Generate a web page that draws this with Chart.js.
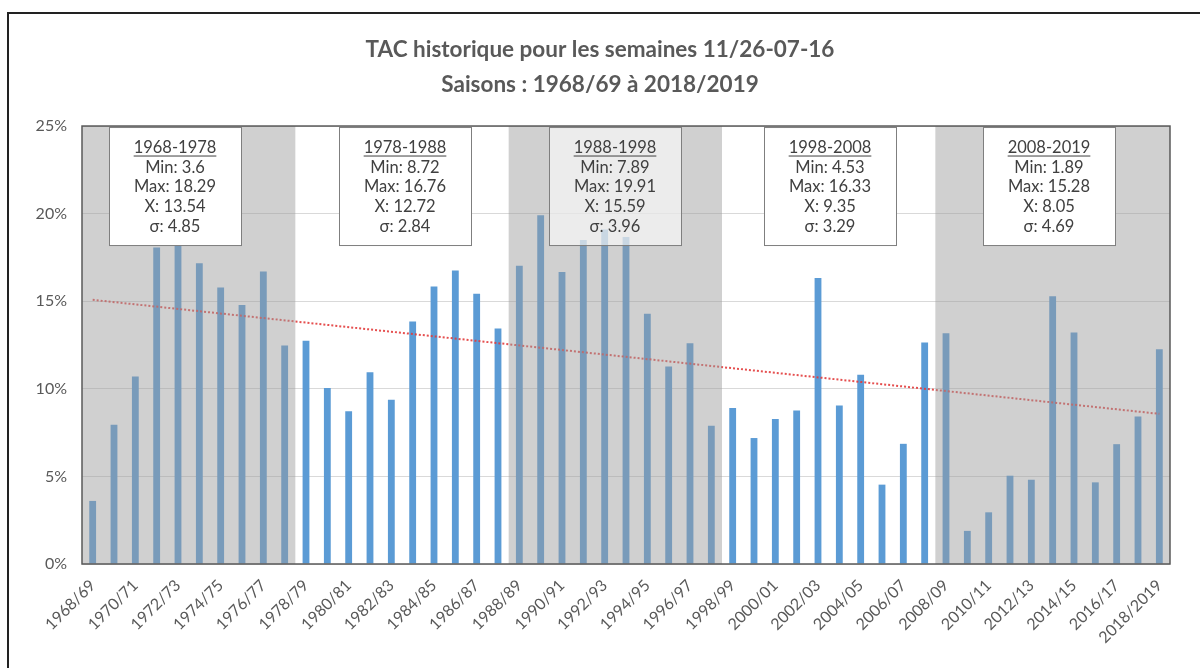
<!DOCTYPE html>
<html>
<head>
<meta charset="utf-8">
<script src="https://cdn.jsdelivr.net/npm/chart.js@4/dist/chart.umd.min.js"></script>
<style>
  html, body { margin: 0; padding: 0; background: #fff; }
</style>
</head>
<body>
<canvas id="tac-chart" width="1200" height="668"></canvas>
<script>
var seasons = [
  "1968/69", "1969/70", "1970/71", "1971/72", "1972/73", "1973/74", "1974/75", "1975/76", "1976/77", "1977/78",
  "1978/79", "1979/80", "1980/81", "1981/82", "1982/83", "1983/84", "1984/85", "1985/86", "1986/87", "1987/88",
  "1988/89", "1989/90", "1990/91", "1991/92", "1992/93", "1993/94", "1994/95", "1995/96", "1996/97", "1997/98",
  "1998/99", "1999/00", "2000/01", "2001/02", "2002/03", "2003/04", "2004/05", "2005/06", "2006/07", "2007/08",
  "2008/09", "2009/10", "2010/11", "2011/12", "2012/13", "2013/14", "2014/15", "2015/16", "2016/17", "2017/18",
  "2018/2019"
];
// TAC in %
var tacValues = [
  3.6, 7.95, 10.7, 18.06, 18.29, 17.17, 15.78, 14.79, 16.69, 12.47,
  12.74, 10.04, 8.72, 10.95, 9.37, 13.84, 15.84, 16.76, 15.42, 13.44,
  17.02, 19.91, 16.67, 18.5, 19.1, 18.66, 14.28, 11.27, 12.6, 7.89,
  8.9, 7.19, 8.27, 8.76, 16.33, 9.05, 10.8, 4.53, 6.86, 12.64,
  13.17, 1.89, 2.95, 5.04, 4.81, 15.28, 13.21, 4.66, 6.84, 8.42,
  12.26
];
// linear trend, first and last season
var trendEnds = [15.08, 8.57];

// decade summaries
var decadeNames = ["1968-1978", "1978-1988", "1988-1998", "1998-2008", "2008-2019"];
var decadeMin = [3.6, 8.72, 7.89, 4.53, 1.89];
var decadeMax = [18.29, 16.76, 19.91, 16.33, 15.28];
var decadeMean = [13.54, 12.72, 15.59, 9.35, 8.05];
var decadeSigma = [4.85, 2.84, 3.96, 3.29, 4.69];

// shaded decades (season index ranges)
var shadeFrom = [0, 20, 40];
var shadeTo = [9, 29, 50];

var titleLines = ["TAC historique pour les semaines 11/26-07-16", "Saisons : 1968/69 \u00e0 2018/2019"];

// box anchors on the category axis
var boxAnchor = [3.84, 14.66, 24.5, 34.57, 44.82];

var decor = {
  id: "decor",
  beforeDraw: function (chart) {
    var ctx = chart.ctx;
    ctx.save();
    ctx.fillStyle = "#fff";
    ctx.fillRect(0, 0, chart.width, chart.height);
    ctx.strokeStyle = "#222";
    ctx.lineWidth = 2;
    ctx.beginPath();
    ctx.moveTo(8, chart.height);
    ctx.lineTo(8, 13);
    ctx.lineTo(chart.width, 13);
    ctx.stroke();
    ctx.restore();
  },
  afterDatasetsDraw: function (chart) {
    var ctx = chart.ctx;
    var a = chart.chartArea;
    var xs = chart.scales.x;
    ctx.save();
    // grey bands
    ctx.fillStyle = "rgba(156,156,156,0.47)";
    for (var i = 0; i < shadeFrom.length; i++) {
      var x0 = Math.max(a.left, xs.getPixelForValue(shadeFrom[i] - 0.5));
      var x1 = Math.min(a.right, xs.getPixelForValue(shadeTo[i] + 0.5));
      ctx.fillRect(x0, a.top, x1 - x0, a.bottom - a.top);
    }
    // plot border
    ctx.strokeStyle = "#595959";
    ctx.lineWidth = 1.5;
    ctx.strokeRect(a.left, a.top, a.right - a.left, a.bottom - a.top);

    // stat boxes
    var w = 132, h = 118;
    ctx.font = "16.5px Lato";
    ctx.textAlign = "center";
    ctx.textBaseline = "middle";
    for (var j = 0; j < decadeNames.length; j++) {
      var cx = Math.round(xs.getPixelForValue(boxAnchor[j]));
      var left = cx - w / 2 + 0.5;
      var top = a.top + 1.5;
      ctx.fillStyle = j === 2 ? "rgba(255,255,255,0.6)" : "#fff";
      ctx.fillRect(left, top, w, h);
      ctx.strokeStyle = "#7f7f7f";
      ctx.lineWidth = 1;
      ctx.strokeRect(left, top, w, h);
      var lines = [
        decadeNames[j],
        "Min: " + decadeMin[j],
        "Max: " + decadeMax[j],
        "X: " + decadeMean[j],
        "\u03c3: " + decadeSigma[j]
      ];
      ctx.fillStyle = "#404040";
      for (var k = 0; k < lines.length; k++) {
        var ty = top + 20 + k * 19.7;
        ctx.fillText(lines[k], cx, ty);
        if (k === 0) {
          var tw = ctx.measureText(lines[k]).width;
          ctx.fillRect(cx - tw / 2, ty + 8, tw, 1);
        }
      }
    }
    ctx.restore();
  }
};

var trendData = seasons.map(function (s, i) {
  if (i === 0) return trendEnds[0];
  if (i === seasons.length - 1) return trendEnds[1];
  return null;
});

new Chart(document.getElementById("tac-chart"), {
  type: "bar",
  data: {
    labels: seasons,
    datasets: [
      {
        type: "line",
        label: "Tendance",
        data: trendData,
        spanGaps: true,
        borderColor: "rgba(226,60,60,0.9)",
        borderWidth: 2,
        borderDash: [2, 2],
        pointRadius: 0,
        order: 0
      },
      {
        label: "TAC",
        data: tacValues,
        backgroundColor: "#5b9bd5",
        categoryPercentage: 1,
        barPercentage: 0.32,
        order: 1
      }
    ]
  },
  options: {
    responsive: false,
    animation: false,
    layout: { padding: { left: 30, right: 30, top: 0, bottom: 0 } },
    plugins: {
      legend: { display: false },
      tooltip: { enabled: false },
      title: {
        display: true,
        text: titleLines,
        color: "#595959",
        font: { family: "Lato", size: 22.5, weight: "bold", lineHeight: 1.556 },
        padding: { top: 32, bottom: 24 }
      }
    },
    scales: {
      x: {
        grid: { display: false },
        border: { display: false },
        afterFit: function (s) { s.height = 104; },
        ticks: {
          autoSkip: false,
          minRotation: 45,
          maxRotation: 45,
          padding: 4,
          color: "#595959",
          font: { family: "Lato", size: 16 },
          callback: function (v, i) { return i % 2 === 0 ? this.getLabelForValue(v) : ""; }
        }
      },
      y: {
        min: 0,
        max: 25,
        afterFit: function (s) { s.width = 52; },
        grid: { color: "#d9d9d9", drawTicks: false },
        border: { display: false },
        ticks: {
          stepSize: 5,
          padding: 15,
          color: "#595959",
          font: { family: "Lato", size: 16 },
          callback: function (v) { return v + "%"; }
        }
      }
    }
  },
  plugins: [decor]
});
</script>
</body>
</html>
